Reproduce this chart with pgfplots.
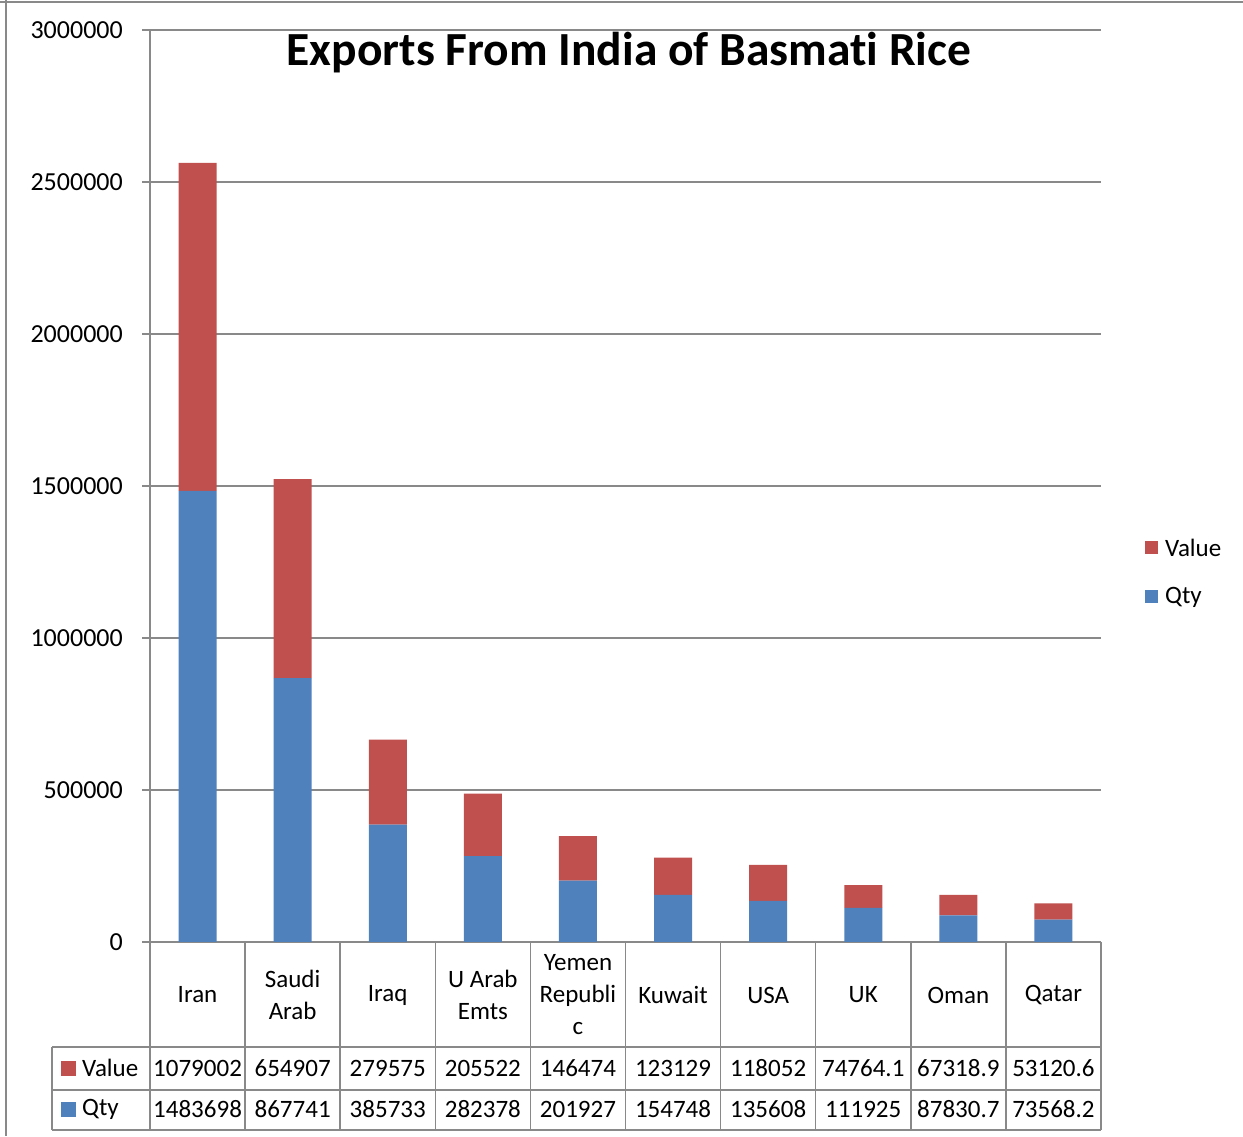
\documentclass[border=0pt]{standalone}
\usepackage{pgfplots}
\pgfplotsset{compat=1.18}
\usepackage{pgfplotstable}
\usepackage{fontspec}
\setmainfont[Ligatures=NoCommon]{Carlito}
\definecolor{qblue}{HTML}{4F81BD}
\definecolor{vred}{HTML}{C0504D}
\definecolor{lgray}{HTML}{898989}
\pgfplotstableread{
idx qty value
1 1483698 1079002
2 867741 654907
3 385733 279575
4 282378 205522
5 201927 146474
6 154748 123129
7 135608 118052
8 111925 74764.1
9 87830.7 67318.9
10 73568.2 53120.6
}\datatable
\begin{document}
\begin{tikzpicture}[font=\fontsize{25}{32}\selectfont]
\useasboundingbox (0,0) rectangle (1243pt,1136pt);
\fill[white] (0,0) rectangle (1243pt,1136pt);
\begin{axis}[at={(150pt,194pt)}, anchor=south west, scale only axis,
  width=951pt, height=912pt,
  xmin=0.5, xmax=10.5, ymin=0, ymax=3000000,
  ybar stacked, bar width=38pt,
  xtick=\empty,
  ytick={0,500000,1000000,1500000,2000000,2500000,3000000},
  scaled y ticks=false,
  yticklabel style={/pgf/number format/fixed, /pgf/number format/1000 sep={}, /pgf/number format/assume math mode=true, anchor=east, inner sep=0pt, xshift=-19pt, font=\fontsize{26}{30}\selectfont},
  axis x line*=bottom, axis y line*=left,
  axis line style={lgray, line width=1.5pt, -},
  tick style={lgray, line width=1.5pt},
  major tick length=8pt, tick align=outside,
  ymajorgrids, grid style={lgray, line width=1.5pt},
]
\addplot[fill=qblue, draw=none] table[x=idx, y=qty] {\datatable};
\addplot[fill=vred, draw=none] table[x=idx, y=value] {\datatable};
\end{axis}
\begin{scope}[shift={(0pt,1136pt)}, x=1pt, y=-1pt]
  % chart border
  \draw[lgray, line width=2pt] (0,2) -- (1243,2);
  \draw[lgray, line width=2pt] (6,0) -- (6,1136);
  % title
  \node[font=\fontsize{47.5}{54}\selectfont\bfseries] at (629,53) {Exports From India of Basmat\kern0pt i Rice};
  % legend
  \fill[vred] (1145,541) rectangle (1158,554);
  \node[anchor=west, inner sep=0pt] at (1165,548) {Value};
  \fill[qblue] (1145,590) rectangle (1158,603);
  \node[anchor=west, inner sep=0pt] at (1165,597) {Qty};
  % data table
  \draw[lgray, line width=1.5pt] (52,1047) -- (1101,1047);
  \draw[lgray, line width=1.5pt] (52,1090) -- (1101,1090);
  \draw[lgray, line width=1.5pt] (52,1130) -- (1101,1130);
  \draw[lgray, line width=1.5pt] (52,1047) -- (52,1130);
  \foreach \i in {0,...,10} {
    \draw[lgray, line width=1.5pt] ({150+95.1*\i},942) -- ({150+95.1*\i},1130);
  }
  \fill[vred] (61,1061) rectangle (76,1076);
  \node[anchor=west, inner sep=0pt] at (82,1068) {Value};
  \fill[qblue] (61,1102) rectangle (76,1117);
  \node[anchor=west, inner sep=0pt] at (82,1109) {Qty};
  \foreach \c [count=\i] in {Iran,Saudi\\Arab,Iraq,U Arab\\Emts,Yemen\\Republi\\c,Kuwait,USA,UK,Oman,Qatar} {
    \node[align=center, inner sep=0pt] at ({150+95.1*(\i-0.5)},995) {\c};
  }
  \foreach \v [count=\i] in {1079002,654907,279575,205522,146474,123129,118052,74764.1,67318.9,53120.6} {
    \node[inner sep=0pt] at ({150+95.1*(\i-0.5)},1068) {\v};
  }
  \foreach \v [count=\i] in {1483698,867741,385733,282378,201927,154748,135608,111925,87830.7,73568.2} {
    \node[inner sep=0pt] at ({150+95.1*(\i-0.5)},1109) {\v};
  }
\end{scope}
\end{tikzpicture}
\end{document}
